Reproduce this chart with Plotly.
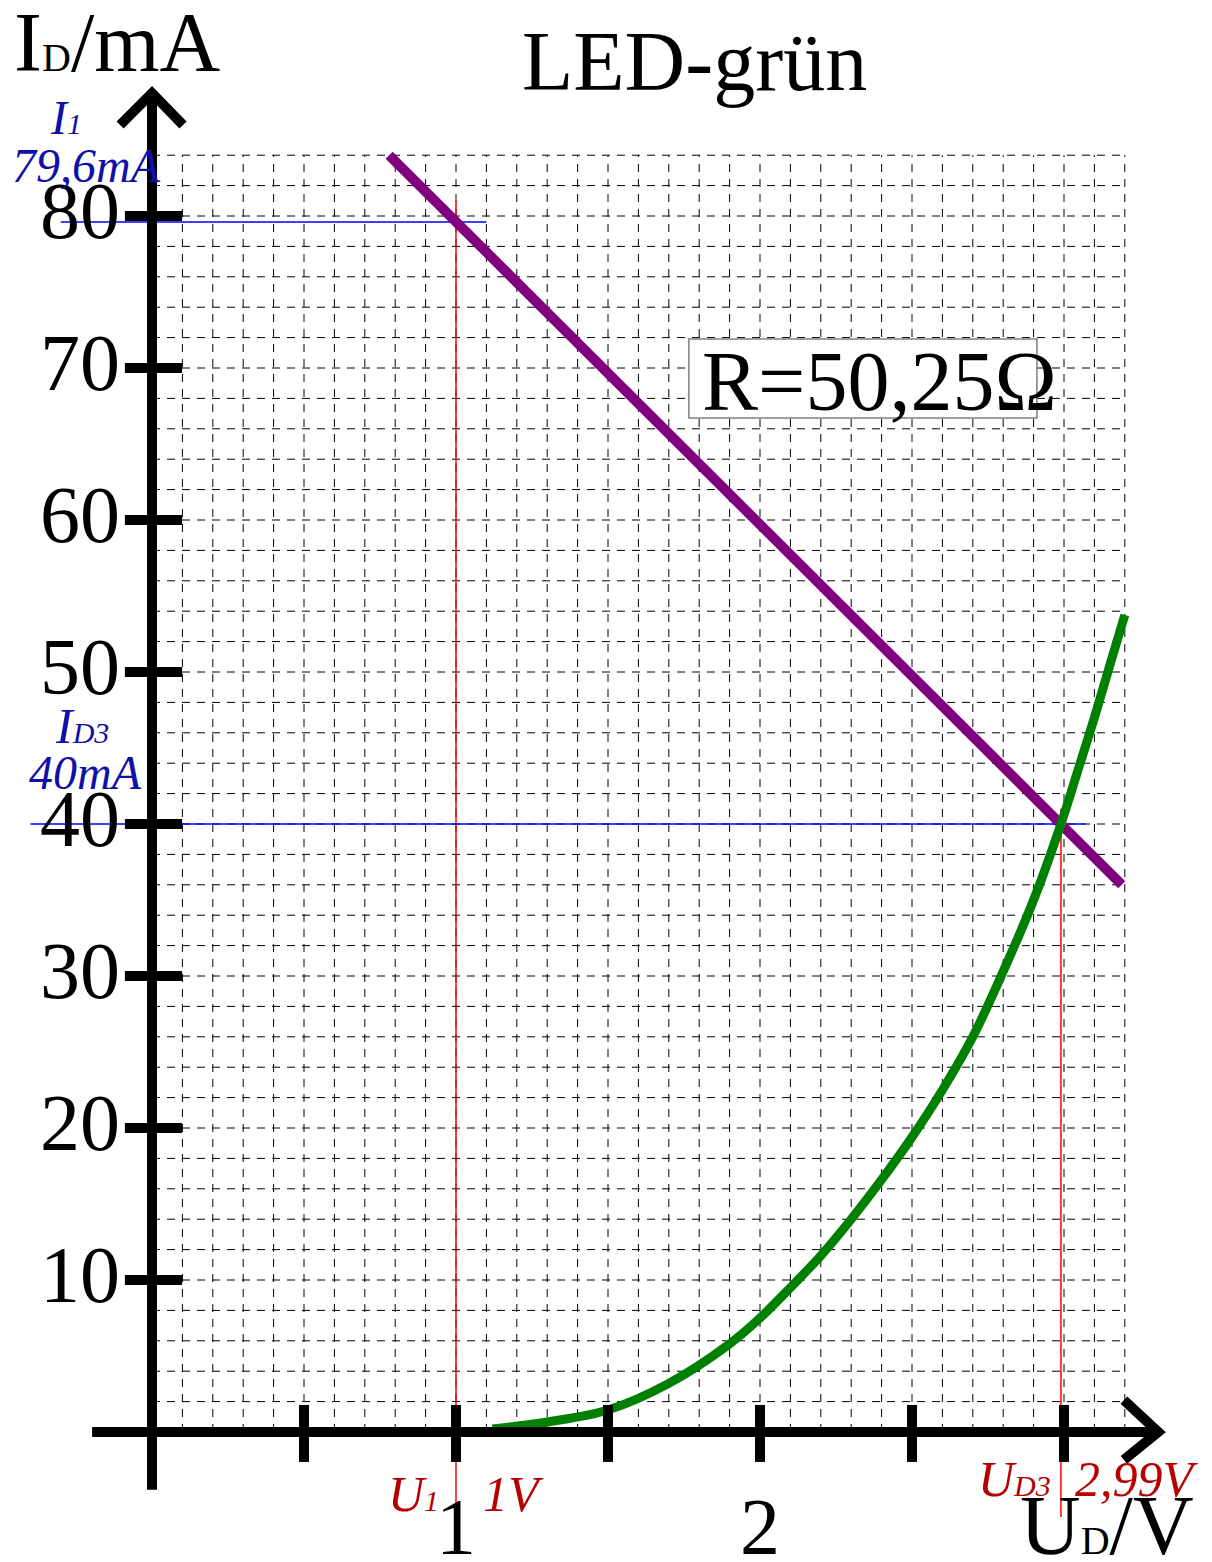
import numpy as np
import plotly.graph_objects as go

# LED-grün characteristic, values
u_led = [1.12, 1.3, 1.5, 1.7, 1.9, 2.0, 2.1, 2.2, 2.3, 2.4, 2.5, 2.6, 2.7, 2.8, 2.9,
         2.99, 3.05, 3.1, 3.15, 3.2]
i_led = [0.2, 0.66, 1.45, 3.2, 5.8, 7.5, 9.5, 11.6, 14.0, 16.6, 19.4, 22.5, 26.0, 30.3, 35.0,
         40.0, 43.8, 47.0, 50.4, 53.75]

# load line for R = 50,25 Ohm
u_load = [0.78, 3.19]
i_load = [84.0, 36.0]

x_ticks = [0.5, 1, 1.5, 2, 2.5, 3]
x_ticklabels = ["1", "2"]
x_ticklabel_pos = [1, 2]
y_ticks = [10, 20, 30, 40, 50, 60, 70, 80]

u1, i1 = 1.0, 79.6      # operating point I1
ud3, id3 = 2.99, 40.0   # intersection UD3 / ID3

SERIF = "Liberation Serif, Times New Roman, serif"
BLUE_T = "#1010a8"
RED_T = "#b80000"

fig = go.Figure()

# dashed grid
grid_u = np.round(np.arange(0.1, 3.201, 0.1), 2)
grid_i = np.arange(2, 84.01, 2)
gx, gy = [], []
for u in grid_u:
    gx += [u, u, None]
    gy += [0, 84, None]
for i in grid_i:
    gx += [0, 3.2, None]
    gy += [i, i, None]
fig.add_trace(go.Scatter(x=gx, y=gy, mode="lines", hoverinfo="skip",
                         line=dict(color="black", width=1, dash="8px,7px")))

# helper lines
fig.add_trace(go.Scatter(x=[u1, u1, None, ud3, ud3], y=[81.0, -5.6, None, 41.0, -5.6],
                         mode="lines", line=dict(color="red", width=1.5), hoverinfo="skip"))
fig.add_trace(go.Scatter(x=[-0.3, 1.1, None, -0.4, 3.07], y=[i1, i1, None, id3, id3],
                         mode="lines", line=dict(color="blue", width=1.5), hoverinfo="skip"))

# curves
fig.add_trace(go.Scatter(x=u_load, y=i_load, mode="lines",
                         line=dict(color="#800080", width=10)))
fig.add_trace(go.Scatter(x=u_led, y=i_led, mode="lines",
                         line=dict(color="#008000", width=9, shape="spline", smoothing=1.0)))

shapes = []
ax = dict(color="black", width=10)
# axes
shapes.append(dict(type="line", x0=-0.197, y0=0, x1=3.3, y1=0, line=ax))
shapes.append(dict(type="line", x0=0, y0=-3.8, x1=0, y1=88.0, line=ax))
# arrow heads
shapes.append(dict(type="path", path="M 3.197 2.1 L 3.31 0 L 3.197 -1.84", line=ax))
shapes.append(dict(type="path", path="M -0.105 85.99 L 0 88.09 L 0.102 85.99", line=ax))
# tick marks
for t in x_ticks:
    shapes.append(dict(type="line", x0=t, y0=1.78, x1=t, y1=-1.97, line=ax))
for t in y_ticks:
    shapes.append(dict(type="line", x0=-0.089, y0=t, x1=0.099, y1=t, line=ax))
# resistor label box
shapes.append(dict(type="rect", x0=1.766, y0=66.71, x1=2.911, y1=71.91,
                   line=dict(color="#808080", width=1.5), fillcolor="white", layer="above"))
fig.update_layout(shapes=shapes)

ann = []
for t in y_ticks:
    ann.append(dict(x=-0.099, y=t + 0.3, text=str(t), xanchor="right", yanchor="middle",
                    font=dict(family=SERIF, size=80, color="black")))
for t, lab in zip(x_ticklabel_pos, x_ticklabels):
    ann.append(dict(x=t, y=-6.25, text=lab, xanchor="center", yanchor="middle",
                    font=dict(family=SERIF, size=80, color="black")))

small = "<span style='font-size:40px'>D</span>"
ann.append(dict(x=-0.46, y=91.41, text="I" + small + "/mA", xanchor="left", yanchor="middle",
                font=dict(family=SERIF, size=84, color="black")))
ann.append(dict(x=2.849, y=-6.12, text="U" + small + "/V", xanchor="left", yanchor="middle",
                font=dict(family=SERIF, size=84, color="black")))
ann.append(dict(x=1.783, y=90.16, text="LED-grün", xanchor="center", yanchor="middle",
                font=dict(family=SERIF, size=84, color="black")))
ann.append(dict(x=1.803, y=69.1, text="R=50,25Ω", xanchor="left", yanchor="middle",
                font=dict(family=SERIF, size=84, color="black")))

# value labels
ann.append(dict(x=-0.283, y=86.45, text="<i>I<span style='font-size:30px'>1</span></i>",
                xanchor="center", yanchor="middle", font=dict(family=SERIF, size=48, color=BLUE_T)))
ann.append(dict(x=-0.217, y=83.29, text="<i>79,6mA</i>",
                xanchor="center", yanchor="middle", font=dict(family=SERIF, size=48, color=BLUE_T)))
ann.append(dict(x=-0.23, y=46.48, text="<i>I<span style='font-size:30px'>D3</span></i>",
                xanchor="center", yanchor="middle", font=dict(family=SERIF, size=50, color=BLUE_T)))
ann.append(dict(x=-0.22, y=43.42, text="<i>40mA</i>",
                xanchor="center", yanchor="middle", font=dict(family=SERIF, size=48, color=BLUE_T)))
ann.append(dict(x=0.86, y=-4.11, text="<i>U<span style='font-size:30px'>1</span></i>",
                xanchor="center", yanchor="middle", font=dict(family=SERIF, size=50, color=RED_T)))
ann.append(dict(x=1.19, y=-4.11, text="<i>1V</i>",
                xanchor="center", yanchor="middle", font=dict(family=SERIF, size=50, color=RED_T)))
ann.append(dict(x=2.836, y=-3.06, text="<i>U<span style='font-size:30px'>D3</span></i>",
                xanchor="center", yanchor="middle", font=dict(family=SERIF, size=50, color=RED_T)))
ann.append(dict(x=3.239, y=-3.06, text="<i>2,99V</i>",
                xanchor="center", yanchor="middle", font=dict(family=SERIF, size=50, color=RED_T)))
for a in ann:
    a["showarrow"] = False
fig.update_layout(annotations=ann)

# the page body adds an 8px margin, so the figure is 8px smaller and shifted
fig.update_layout(
    width=1204, height=1554, autosize=False,
    margin=dict(l=0, r=0, t=0, b=0),
    paper_bgcolor="white", plot_bgcolor="white",
    showlegend=False,
    xaxis=dict(range=[-0.47368, 3.48684], visible=False, fixedrange=True),
    yaxis=dict(range=[-8.55263, 93.68421], visible=False, fixedrange=True),
)

fig.write_html("out.html")
